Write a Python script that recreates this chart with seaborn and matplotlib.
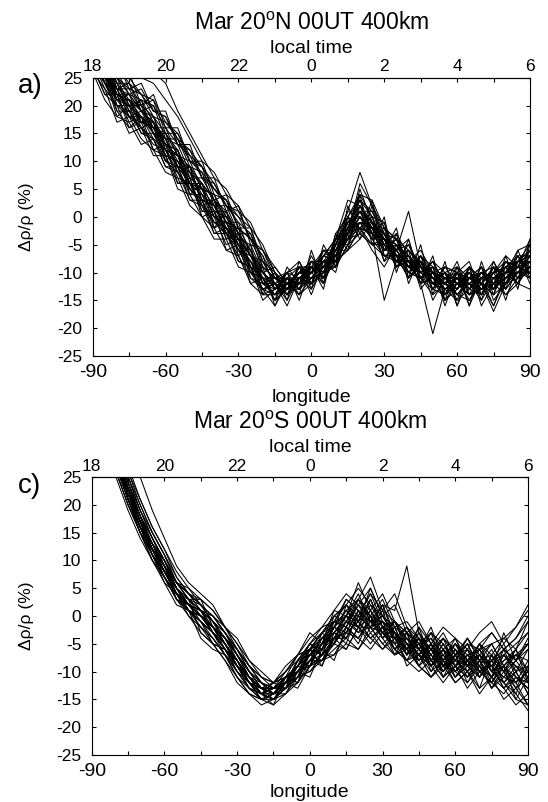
import matplotlib
matplotlib.use("Agg")
import matplotlib.pyplot as plt
import pandas as pd
import seaborn as sns

# ---------------- data ----------------
LON = [-90, -85, -80, -75, -70, -65, -60, -55, -50, -45, -40, -35, -30, -25, -20, -15, -10, -5,
       0, 5, 10, 15, 20, 25, 30, 35, 40, 45, 50, 55, 60, 65, 70, 75, 80, 85, 90]
LON_TICKS = [-90, -60, -30, 0, 30, 60, 90]
LON_MINOR = [-75, -45, -15, 15, 45, 75]
LT_LABELS = ["18", "20", "22", "0", "2", "4", "6"]
Y_TICKS = [-25, -20, -15, -10, -5, 0, 5, 10, 15, 20, 25]

TITLE_A = "Mar 20$^{\\rm o}$N 00UT 400km"
TITLE_C = "Mar 20$^{\\rm o}$S 00UT 400km"

# panel a) ensemble members, one value per LON
A_LINES = [
    [31, 27, 21, 22, 17, 18, 12, 11, 5, 5, 0, 0, -5, -6, -12, -10, -14, -9, -12, -6, -7, -1, 1, -4, -2, -8, -5, -10, -8, -14, -10, -13, -9, -13, -8, -11, -6],
    [27, 24, 19, 16, 17, 12, 11, 6, 6, 1, 1, -4, -3, -10, -11, -15, -11, -13, -8, -11, -5, -5, 2, -3, -6, -4, -10, -7, -13, -10, -15, -9, -12, -14, -9, -7, -10],
    [35, 29, 26, 22, 23, 19, 18, 13, 12, 7, 6, 2, 1, -4, -6, -10, -13, -12, -9, -10, -4, -2, 3, 1, -3, -5, -9, -8, -12, -10, -9, -13, -11, -8, -12, -8, -5],
    [29, 25, 23, 18, 19, 15, 14, 8, 9, 3, 3, -3, -2, -9, -10, -13, -10, -8, -12, -7, -8, 0, -2, 0, -7, -7, -11, -9, -10, -15, -12, -10, -14, -10, -9, -12, -9],
    [33, 30, 24, 24, 20, 21, 15, 15, 10, 9, 3, 4, -2, -2, -9, -11, -12, -14, -11, -9, -9, -3, 0, -2, -5, -3, -7, -11, -9, -11, -14, -11, -10, -13, -11, -8, -7],
    [26, 21, 18, 17, 13, 14, 9, 8, 3, 2, -3, -2, -8, -9, -14, -14, -12, -10, -9, -10, -6, -4, -3, -5, -4, -9, -8, -12, -11, -13, -11, -15, -12, -9, -13, -10, -11],
    [30, 28, 22, 21, 19, 16, 16, 11, 9, 5, 4, -1, -1, -7, -8, -12, -15, -11, -10, -12, -7, -2, 4, 0, -1, -7, -6, -9, -12, -10, -12, -12, -15, -11, -10, -10, -7],
    [32, 26, 25, 20, 21, 17, 13, 12, 6, 6, 1, 1, -4, -5, -10, -13, -11, -12, -10, -7, -4, -1, -2, -3, -6, -5, -9, -7, -11, -12, -9, -11, -13, -12, -8, -9, -8],
    [28, 23, 20, 19, 15, 15, 10, 9, 4, 4, -1, -2, -6, -10, -13, -12, -14, -11, -13, -9, -9, -5, -1, -1, -4, -8, -10, -11, -14, -12, -13, -10, -12, -14, -12, -11, -9],
    [38, 34, 30, 28, 27, 26, 24, 19, 15, 11, 7, 5, 1, -1, -6, -9, -12, -10, -8, -8, -5, -1, 2, -1, -3, -6, -5, -9, -10, -11, -11, -9, -11, -10, -7, -9, -6],
    [29, 24, 22, 17, 18, 14, 12, 7, 6, 2, 0, -5, -4, -11, -12, -14, -13, -9, -10, -8, -7, -3, 6, 2, -2, -4, -8, -6, -10, -13, -11, -13, -10, -11, -10, -8, -9],
    [31, 28, 23, 23, 19, 17, 14, 13, 8, 6, 3, 0, -3, -6, -11, -11, -10, -13, -11, -11, -8, -4, -2, -5, -5, -9, -7, -10, -8, -12, -14, -12, -11, -16, -11, -10, -10],
    [27, 22, 20, 15, 16, 11, 11, 5, 4, 0, -2, -6, -7, -12, -14, -13, -11, -12, -8, -9, -4, 1, 0, -2, -8, -6, -9, -10, -12, -11, -10, -14, -13, -12, -9, -12, -8],
    [34, 30, 25, 23, 22, 18, 17, 14, 10, 8, 5, 2, -1, -3, -8, -12, -13, -11, -9, -6, -6, -2, 1, -3, -4, -7, -11, -8, -12, -9, -12, -11, -9, -12, -10, -7, -7],
    [30, 25, 21, 21, 17, 16, 13, 9, 8, 3, 2, -2, -5, -8, -10, -12, -14, -12, -12, -10, -6, -6, -4, -1, -6, -5, -8, -12, -21, -13, -11, -12, -14, -11, -13, -10, -9],
    [28, 26, 19, 19, 16, 13, 12, 8, 5, 3, -2, -1, -6, -9, -13, -16, -12, -10, -11, -8, -8, -3, 1, -2, -3, -8, -6, -9, -11, -15, -13, -10, -12, -9, -11, -9, -11],
    [33, 27, 24, 20, 20, 18, 15, 11, 10, 5, 4, 0, -3, -7, -9, -11, -11, -12, -9, -11, -5, 0, 3, 0, -5, -6, -9, -9, -10, -12, -10, -16, -11, -12, -10, -8, -6],
    [37, 33, 29, 27, 25, 24, 21, 18, 14, 10, 8, 4, 2, -2, -5, -10, -12, -11, -9, -9, -6, -2, -1, -2, -2, -4, -8, -10, -9, -11, -12, -11, -10, -11, -9, -8, -7],
    [29, 24, 21, 18, 18, 15, 11, 10, 7, 1, 1, -3, -6, -7, -12, -12, -13, -10, -10, -9, -7, -4, -1, -4, -7, -8, -7, -11, -13, -14, -12, -11, -12, -17, -12, -9, -8],
    [32, 27, 22, 22, 19, 17, 14, 10, 9, 6, 3, -1, -2, -6, -12, -13, -11, -11, -10, -7, -6, -3, 2, -1, -3, -9, -8, -8, -11, -10, -14, -12, -13, -10, -9, -11, -9],
    [26, 23, 17, 18, 14, 12, 8, 7, 2, 0, -4, -4, -9, -10, -13, -14, -10, -11, -11, -10, -9, -5, -3, -5, -7, -7, -10, -11, -12, -13, -15, -13, -11, -12, -14, -11, -10],
    [34, 29, 25, 22, 21, 20, 16, 13, 11, 7, 5, 3, -2, -4, -9, -11, -13, -10, -8, -9, -5, 1, 8, 2, -3, -4, -6, -8, -10, -9, -10, -11, -10, -9, -10, -6, -5],
    [30, 26, 23, 19, 18, 16, 14, 9, 6, 5, 0, -2, -4, -9, -11, -15, -13, -13, -10, -8, -7, -3, -2, 0, -5, -7, -7, -10, -12, -11, -11, -12, -13, -11, -12, -10, -8],
    [31, 25, 22, 21, 18, 15, 12, 11, 8, 3, 2, -3, -5, -8, -11, -12, -11, -9, -12, -10, -5, -1, 0, -3, -6, -6, 1, -9, -11, -12, -13, -9, -12, -13, -10, -8, -9],
    [28, 27, 20, 20, 17, 17, 11, 10, 6, 4, 1, 0, -4, -7, -10, -13, -12, -12, -9, -11, -8, -4, -1, -4, -3, -7, -9, -9, -12, -14, -10, -12, -11, -10, -8, -9, -10],
    [35, 29, 27, 24, 22, 19, 18, 14, 12, 9, 6, 2, 0, -4, -7, -11, -12, -10, -11, -8, -7, -2, 1, 1, -4, -5, -7, -11, -10, -11, -12, -10, -13, -12, -11, -10, -7],
    [29, 24, 20, 18, 16, 14, 10, 8, 5, 2, -1, -3, -7, -11, -13, -12, -14, -12, -10, -9, -8, -6, -2, -3, -15, -8, -8, -10, -11, -13, -12, -14, -10, -11, -12, -10, -9],
    [32, 28, 24, 21, 20, 16, 15, 12, 7, 7, 3, 1, -3, -6, -10, -12, -10, -9, -9, -7, -4, -3, 0, -2, -4, -6, -9, -7, -10, -12, -11, -11, -12, -10, -9, -8, -8],
    [30, 26, 21, 20, 18, 17, 12, 9, 8, 4, 2, -2, -5, -8, -12, -11, -13, -11, -12, -10, -7, -3, -1, -2, -5, -7, -8, -9, -12, -10, -13, -11, -12, -13, -11, -9, -9],
    [33, 27, 23, 22, 19, 18, 13, 12, 7, 5, 2, -1, -4, -7, -11, -14, -12, -10, -10, -9, -6, -1, 2, -1, -4, -6, -9, -10, -11, -12, -11, -13, -11, -11, -10, -9, -8],
    [32, 26, 24, 19, 21, 15, 15, 9, 9, 2, 3, -4, -3, -10, -9, -16, -11, -14, -6, -12, -3, -6, 4, -5, 0, -10, -4, -12, -7, -15, -9, -16, -8, -14, -7, -13, -4],
    [29, 27, 21, 21, 16, 17, 10, 12, 4, 6, -2, 1, -7, -5, -14, -10, -15, -8, -13, -5, -9, 2, -3, 3, -6, -2, -11, -5, -14, -8, -16, -9, -15, -8, -13, -6, -11],
    [34, 31, 25, 26, 20, 22, 16, 16, 10, 10, 4, 3, -2, -4, -7, -13, -10, -15, -9, -13, -4, -4, 5, -1, -8, -3, -12, -7, -9, -16, -10, -8, -14, -9, -15, -8, -6],
    [27, 22, 22, 16, 18, 12, 13, 6, 7, 0, 1, -6, -5, -12, -11, -15, -9, -12, -7, -11, -3, 0, -4, 2, -7, -6, -4, -11, -8, -10, -16, -11, -9, -15, -12, -7, -12],
    [36, 30, 28, 23, 24, 19, 19, 13, 13, 7, 7, 1, 2, -5, -6, -11, -13, -9, -14, -8, -10, -2, 3, -3, -1, -9, -6, -13, -10, -12, -8, -14, -12, -16, -10, -12, -5],
    [30, 24, 23, 18, 17, 16, 11, 10, 5, 3, -1, -1, -6, -8, -13, -12, -16, -11, -9, -12, -6, -4, 0, -4, -3, -7, -10, -8, -15, -11, -13, -9, -16, -12, -9, -11, -7],
    [33, 29, 23, 24, 19, 20, 14, 14, 9, 8, 2, 2, -3, -3, -10, -9, -12, -13, -8, -10, -4, 3, 2, -2, -6, -4, -8, -12, -9, -14, -11, -12, -10, -13, -8, -9, -10],
    [28, 25, 18, 20, 15, 14, 9, 9, 3, 3, -3, -3, -8, -9, -15, -13, -11, -14, -12, -7, -8, -6, -2, -6, -9, -5, -9, -9, -12, -12, -14, -15, -11, -10, -14, -12, -13],
    [35, 32, 26, 25, 22, 21, 17, 15, 11, 9, 5, 3, 0, -2, -8, -10, -14, -12, -10, -6, -8, 0, 4, 3, -2, -7, -7, -9, -13, -9, -10, -13, -14, -9, -11, -9, -4],
    [31, 26, 22, 20, 20, 15, 13, 11, 6, 5, 0, -1, -5, -9, -11, -15, -13, -10, -11, -10, -5, -3, 1, -1, -4, -8, -9, -11, -10, -13, -12, -14, -13, -12, -8, -10, -8],
]

# panel c) ensemble members, one value per LON
C_LINES = [
    [46, 38, 30, 24, 18, 13, 9, 5, 3, 1, -1, -4, -7, -10, -12, -13, -11, -9, -5, -3, 0, 2, -1, 1, -3, -6, -4, -7, -3, -9, -5, -8, -11, -7, -10, -6, -12],
    [42, 34, 26, 20, 15, 10, 7, 3, 1, -1, -4, -7, -11, -13, -15, -14, -13, -11, -8, -8, -5, -2, -4, 0, -4, -1, -6, -4, -9, -7, -11, -8, -6, -10, -9, -13, -11],
    [48, 40, 32, 25, 19, 14, 10, 6, 5, 2, 0, -3, -6, -9, -12, -14, -13, -10, -9, -5, -1, 3, 1, -2, 2, -3, -6, -8, -5, -10, -7, -4, -8, -11, -6, -8, -5],
    [44, 36, 28, 21, 16, 11, 8, 4, 1, -1, -3, -6, -9, -13, -14, -15, -12, -8, -6, -7, -2, -4, 0, 4, -1, -3, -7, -3, -8, -6, -9, -11, -7, -9, -13, -10, -14],
    [47, 39, 31, 24, 18, 12, 8, 5, 2, 0, -2, -4, -7, -11, -13, -12, -11, -12, -8, -4, -4, 0, -3, -2, 1, -5, -2, -6, -9, -5, -8, -10, -6, -5, -9, -12, -8],
    [43, 35, 27, 21, 16, 12, 9, 3, 2, 1, -3, -6, -8, -12, -14, -14, -12, -8, -5, -7, -1, -2, 3, -1, -4, -2, -7, -5, -4, -9, -8, -5, -10, -12, -8, -6, -10],
    [45, 37, 29, 23, 17, 11, 7, 4, 1, -2, -4, -7, -10, -13, -15, -16, -14, -11, -10, -8, -6, -4, -6, -2, -5, -7, -6, -9, -11, -8, -12, -10, -13, -11, -15, -13, -16],
    [55, 46, 38, 31, 25, 19, 14, 9, 6, 4, 2, -2, -5, -8, -11, -12, -10, -7, -4, -2, 1, 4, 2, 5, 0, 2, -3, -1, -5, -2, -4, -6, -3, -1, -5, -2, 1],
    [44, 36, 29, 22, 17, 12, 10, 5, 2, 0, -2, -5, -9, -12, -13, -14, -12, -10, -6, -5, -3, 0, -2, 3, -2, -4, -7, -4, -8, -10, -6, -9, -11, -8, -7, -10, -9],
    [46, 38, 29, 23, 17, 13, 8, 4, 3, 0, -3, -5, -8, -11, -14, -13, -13, -9, -7, -6, -2, -3, 1, -1, 2, 1, 9, -3, -6, -8, -5, -7, -9, -6, -10, -8, -11],
    [41, 33, 25, 19, 14, 10, 7, 3, 0, -2, -5, -8, -12, -14, -15, -15, -13, -12, -9, -8, -7, -5, -6, -3, -6, -4, -8, -6, -9, -12, -9, -11, -9, -13, -10, -14, -17],
    [47, 38, 30, 23, 18, 14, 10, 5, 2, 1, -1, -4, -6, -10, -13, -13, -12, -8, -5, -2, -1, 2, 0, 4, 1, -1, -3, -5, -3, -6, -4, -8, -5, -3, -6, -4, -1],
    [45, 36, 28, 22, 16, 11, 8, 4, 2, 0, -2, -5, -9, -11, -13, -14, -11, -10, -7, -8, -4, -1, -3, 1, -3, -5, -4, -7, -5, -9, -10, -7, -9, -11, -7, -9, -12],
    [43, 35, 28, 21, 15, 11, 6, 2, 1, 0, -3, -7, -10, -12, -14, -13, -12, -9, -6, -4, -5, -1, 2, -2, 0, -3, -5, -4, -8, -6, -10, -7, -6, -10, -12, -9, -11],
    [48, 39, 31, 24, 19, 14, 9, 5, 3, 3, -2, -4, -7, -10, -12, -13, -12, -11, -6, -3, -2, 1, -1, 3, -2, -3, -6, -2, -5, -8, -5, -9, -7, -9, -11, -8, -6],
    [44, 37, 29, 22, 17, 12, 8, 4, 2, -1, -3, -6, -8, -11, -14, -15, -13, -10, -8, -6, -3, -4, 0, -2, -1, -4, -2, -6, -8, -4, -9, -6, -10, -8, -6, -11, -13],
    [46, 38, 30, 23, 17, 13, 9, 4, 1, 0, -2, -5, -8, -12, -13, -14, -13, -8, -7, -4, -1, -2, 2, 0, 3, -2, -4, -7, -5, -8, -6, -10, -8, -12, -9, -7, -10],
    [42, 35, 27, 21, 16, 11, 7, 4, 1, -4, -6, -7, -9, -12, -15, -14, -11, -9, -6, -7, -4, -3, -1, -4, -2, -6, -3, -8, -6, -10, -7, -9, -5, -8, -12, -15, -16],
    [45, 37, 30, 23, 17, 12, 9, 5, 2, 1, -2, -4, -7, -11, -13, -12, -11, -7, -6, -3, -1, 0, 3, 1, -2, -1, -4, -6, -3, -5, -8, -4, -7, -5, -4, -2, 2],
    [47, 39, 30, 22, 17, 12, 8, 4, 1, 0, -3, -6, -9, -12, -14, -14, -12, -10, -8, -5, -4, -1, -2, 0, -3, -1, -5, -7, -9, -6, -8, -10, -7, -11, -9, -12, -10],
    [45, 36, 28, 22, 16, 12, 8, 4, 2, 1, -1, -3, -7, -10, -13, -13, -12, -8, -5, -6, -2, 1, -2, 2, -2, -1, -5, -8, -6, -9, -7, -11, -8, -7, -10, -13, -9],
    [49, 40, 32, 26, 20, 15, 11, 6, 3, 1, 0, -3, -6, -9, -12, -13, -11, -10, -8, -7, -4, -3, 1, -1, 0, -4, -3, -5, -9, -6, -8, -5, -9, -11, -7, -9, -10],
    [43, 34, 26, 20, 15, 11, 8, 5, 3, -3, -5, -6, -10, -13, -14, -15, -14, -12, -9, -7, -5, -2, -4, -1, -3, -6, -4, -7, -10, -8, -11, -9, -7, -10, -12, -10, -14],
    [50, 41, 33, 26, 21, 16, 12, 7, 4, 2, -1, -4, -7, -11, -12, -14, -12, -9, -7, -4, -3, 0, -1, 3, -2, -3, -6, -4, -6, -9, -7, -6, -8, -9, -6, -8, -5],
    [44, 36, 27, 21, 16, 13, 9, 6, 4, 2, -1, -5, -8, -12, -14, -12, -13, -11, -7, -6, -4, -4, 0, -2, -5, -3, -6, -9, -7, -10, -8, -9, -11, -8, -10, -7, -8],
    [47, 38, 29, 22, 17, 13, 9, 5, 2, 0, -2, -4, -8, -11, -13, -15, -12, -10, -9, -5, -2, 1, 3, 0, -4, -2, -7, -5, -8, -11, -9, -7, -10, -12, -9, -11, -13],
    [42, 35, 27, 21, 16, 12, 9, 6, 3, 1, -2, -5, -9, -12, -15, -14, -11, -9, -6, -3, -1, -2, 2, 0, -1, -3, -5, -6, -4, -7, -5, -8, -6, -9, -7, -5, -3],
    [46, 37, 29, 23, 18, 12, 7, 3, 1, -1, -3, -6, -9, -12, -14, -13, -12, -11, -8, -8, -4, -3, -1, -4, -2, -6, -8, -7, -9, -6, -10, -8, -10, -9, -13, -11, -12],
    [48, 39, 31, 25, 19, 15, 11, 6, 4, 2, 0, -2, -6, -9, -11, -12, -10, -7, -6, -3, 0, 2, 5, 2, 0, -2, -1, -4, -6, -4, -7, -5, -6, -3, -6, -4, 0],
    [45, 37, 29, 22, 17, 12, 8, 4, 2, 0, -2, -5, -8, -11, -13, -14, -12, -10, -7, -5, -3, -1, -2, -2, -3, -4, -6, -7, -8, -7, -9, -8, -10, -9, -11, -12, -10],
    [44, 35, 27, 21, 15, 12, 9, 5, 1, -1, -5, -8, -11, -14, -16, -15, -13, -10, -11, -6, -8, -2, -5, 0, -4, -7, -3, -9, -5, -11, -7, -12, -8, -13, -9, -15, -11],
    [50, 42, 33, 27, 21, 16, 12, 8, 5, 3, 1, -2, -4, -8, -10, -12, -9, -7, -3, -5, 1, 0, 6, 1, 4, -1, -3, -6, -2, -8, -4, -9, -5, -10, -3, -8, -4],
    [43, 35, 28, 22, 17, 12, 8, 4, 2, 0, -2, -6, -10, -13, -14, -16, -11, -12, -6, -9, -3, -5, 1, -3, -1, -6, -8, -4, -10, -6, -11, -8, -13, -7, -12, -14, -9],
    [47, 39, 31, 24, 18, 14, 10, 6, 3, 2, -1, -3, -7, -10, -13, -13, -10, -8, -9, -3, -5, 2, -1, 5, 0, -3, -7, -2, -8, -5, -9, -6, -11, -8, -5, -10, -6],
    [45, 36, 28, 21, 16, 11, 7, 3, 1, -2, -4, -7, -11, -14, -15, -14, -14, -10, -8, -9, -4, -6, -2, -4, -6, -3, -9, -7, -11, -9, -12, -10, -14, -11, -13, -16, -14],
    [46, 38, 30, 23, 18, 13, 10, 6, 4, 1, 0, -3, -6, -10, -12, -14, -12, -11, -6, -4, -2, 3, 1, -1, 2, -4, -2, -5, -7, -4, -6, -9, -5, -7, -4, -6, -1],
    [41, 34, 26, 20, 15, 10, 6, 4, 0, -3, -5, -6, -9, -12, -14, -15, -12, -13, -9, -7, -7, -3, -4, -6, -3, -5, -8, -10, -8, -11, -9, -13, -10, -12, -14, -11, -13],
    [49, 40, 32, 25, 20, 15, 11, 7, 4, 3, 1, -2, -5, -9, -11, -13, -11, -9, -5, -6, 0, -1, 3, 7, 1, 4, -2, -4, -6, -3, -7, -4, -8, -5, -9, -6, -3],
    [44, 36, 28, 22, 16, 12, 8, 5, 2, 1, -3, -5, -9, -11, -14, -13, -12, -9, -10, -7, -5, -6, -2, -5, -2, -7, -5, -9, -11, -8, -10, -12, -9, -13, -11, -12, -16],
    [46, 37, 29, 23, 17, 12, 9, 4, 2, 0, -2, -4, -8, -12, -13, -14, -13, -10, -7, -4, -2, 0, 4, -1, -1, -3, -6, -3, -7, -9, -6, -8, -7, -10, -8, -7, -5],
]

# ---------------- style ----------------
sns.set_style("ticks")
plt.rcParams["font.family"] = ["Liberation Sans", "DejaVu Sans"]
plt.rcParams["mathtext.fontset"] = "custom"
plt.rcParams["mathtext.rm"] = "Liberation Sans"
plt.rcParams["mathtext.it"] = "Liberation Sans:italic"
plt.rcParams["axes.linewidth"] = 0.8
for key in ["text.color", "axes.labelcolor", "xtick.color", "ytick.color", "axes.edgecolor"]:
    plt.rcParams[key] = "black"

W, H = 548, 802
fig = plt.figure(figsize=(W / 100, H / 100), dpi=100)


def long_df(lines):
    rows = []
    for m, vals in enumerate(lines):
        if len(vals) != len(LON):
            raise ValueError(f"line {m} has {len(vals)} values")
        for lo, v in zip(LON, vals):
            rows.append((m, lo, v))
    return pd.DataFrame(rows, columns=["member", "lon", "val"])


def fx(px):
    return px / W


def fy(py):
    return 1 - py / H


def panel(left, right, top, bottom, lines, title, letter, xlab_y):
    ax = fig.add_axes([fx(left), fy(bottom), fx(right) - fx(left), fy(top) - fy(bottom)])
    sns.lineplot(data=long_df(lines), x="lon", y="val", units="member", estimator=None,
                 color="black", lw=0.75, ax=ax, legend=False)
    ax.set_xlim(-90, 90)
    ax.set_ylim(-25, 25)
    ax.set_xlabel("")
    ax.set_ylabel("")
    ax.set_xticks(LON_TICKS)
    ax.set_xticklabels([str(t) for t in LON_TICKS])
    ax.set_xticks(LON_MINOR, minor=True)
    ax.set_yticks(Y_TICKS)
    ax.set_yticklabels([str(t) for t in Y_TICKS])
    ax.tick_params(axis="x", which="both", direction="in", length=3, width=0.8,
                   bottom=True, top=False, labelsize=14, pad=6)
    ax.tick_params(axis="y", which="both", direction="in", length=3, width=0.8,
                   left=True, right=True, labelsize=12.5, pad=7.5)
    for s in ax.spines.values():
        s.set_visible(True)
        s.set_linewidth(0.8)
        s.set_color("black")

    sec = ax.secondary_xaxis("top")
    sec.set_xticks(LON_TICKS)
    sec.set_xticklabels(LT_LABELS)
    sec.set_xticks(LON_MINOR, minor=True)
    sec.tick_params(axis="x", which="both", direction="in", length=3, width=0.8,
                    labelsize=12.5, pad=2.5)
    sec.spines["top"].set_linewidth(0.8)

    cx = (left + right) / 2
    fig.text(fx(cx), fy(top - 47.7), title, ha="center", va="baseline", fontsize=16.5)
    fig.text(fx(cx), fy(top - 25), "local time", ha="center", va="baseline", fontsize=14)
    fig.text(fx(cx), fy(xlab_y), "longitude", ha="center", va="baseline", fontsize=14)
    fig.text(fx(18), fy(top + 15.6), letter, ha="left", va="baseline", fontsize=20)
    fig.text(fx(26), fy((top + bottom) / 2), "\u0394\u03c1/\u03c1 (%)", rotation=90,
             ha="center", va="center", fontsize=12.5)
    return ax


panel(92.7, 530, 77.7, 356, A_LINES, TITLE_A, "a)", 402)
panel(91.7, 528, 477, 755, C_LINES, TITLE_C, "c)", 797)

fig.savefig("out.png", dpi=100, facecolor="white")
